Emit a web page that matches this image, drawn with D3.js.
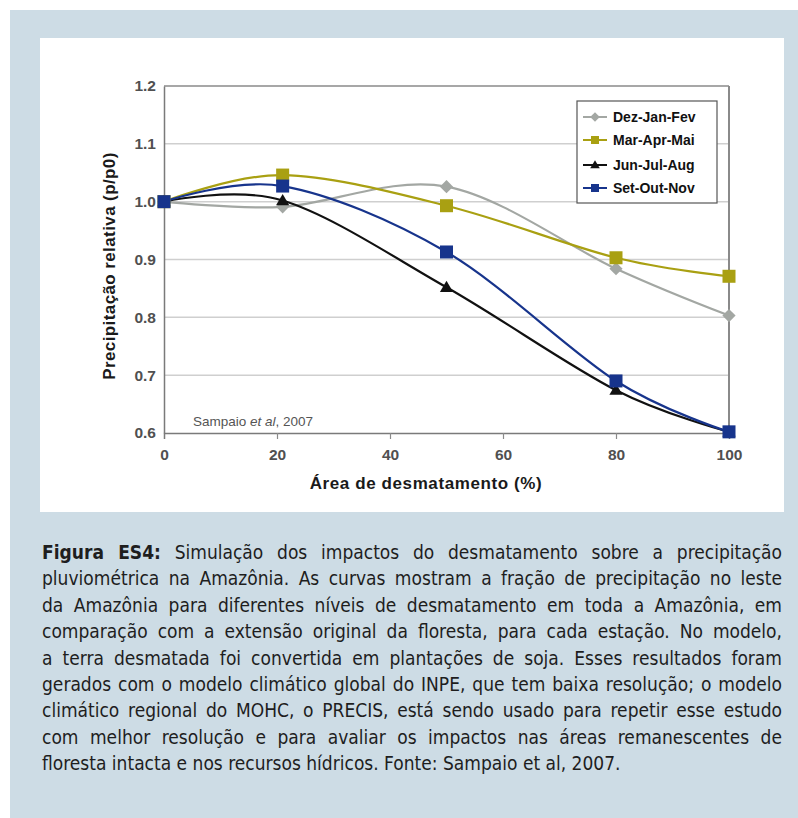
<!DOCTYPE html>
<html>
<head>
<meta charset="utf-8">
<script src="https://cdn.jsdelivr.net/npm/d3@7"></script>
<style>
  html, body { margin: 0; padding: 0; background: #ffffff; }
  #wrap { position: relative; width: 798px; height: 818px; overflow: hidden; }
  svg { position: absolute; left: 0; top: 0; }
  #caption { position: absolute; left: 42px; top: 539px; width: 740px;
    font-family: "Liberation Sans Narrow", "DejaVu Sans Condensed", "Roboto", sans-serif;
    font-size: 19px; color: #1e1e1e; }
  #caption div { height: 26.4px; line-height: 26.4px; white-space: nowrap; }
  #caption div.j { text-align: justify; text-align-last: justify; white-space: normal; }
</style>
</head>
<body>
<div id="wrap"><svg id="chart" width="798" height="818"></svg><div id="caption"></div></div>
<script>
const xValues = [0, 21, 50, 80, 100];
const seriesNames = ["Dez-Jan-Fev", "Mar-Apr-Mai", "Jun-Jul-Aug", "Set-Out-Nov"];
const dezJanFev = [1.0, 0.991, 1.026, 0.884, 0.803];
const marAprMai = [1.0, 1.046, 0.993, 0.903, 0.871];
const junJulAug = [1.0, 1.002, 0.852, 0.674, 0.602];
const setOutNov = [1.0, 1.027, 0.913, 0.690, 0.602];
const xTicks = [0, 20, 40, 60, 80, 100];
const yTicks = [0.6, 0.7, 0.8, 0.9, 1.0, 1.1, 1.2];
const captionLines = [
  "Simulação dos impactos do desmatamento sobre a precipitação",
  "pluviométrica na Amazônia. As curvas mostram a fração de precipitação no leste",
  "da Amazônia para diferentes níveis de desmatamento em toda a Amazônia, em",
  "comparação com a extensão original da floresta, para cada estação. No modelo,",
  "a terra desmatada foi convertida em plantações de soja. Esses resultados foram",
  "gerados com o modelo climático global do INPE, que tem baixa resolução; o modelo",
  "climático regional do MOHC, o PRECIS, está sendo usado para repetir esse estudo",
  "com melhor resolução e para avaliar os impactos nas áreas remanescentes de",
  "floresta intacta e nos recursos hídricos. Fonte: Sampaio et al, 2007."
];

const series = [
  { name: seriesNames[0], values: dezJanFev, color: "#a3a7a3", marker: "diamond" },
  { name: seriesNames[1], values: marAprMai, color: "#a9a012", marker: "square" },
  { name: seriesNames[2], values: junJulAug, color: "#111111", marker: "triangle" },
  { name: seriesNames[3], values: setOutNov, color: "#17348c", marker: "square" }
];

const svg = d3.select("#chart");
// panel background
svg.append("rect").attr("x", 10).attr("y", 10).attr("width", 798).attr("height", 818).attr("fill", "#cddce5");
svg.append("rect").attr("x", 40).attr("y", 38).attr("width", 744).attr("height", 474).attr("fill", "#ffffff");

const x = d3.scaleLinear().domain([0, 100]).range([164, 729]);
const y = d3.scaleLinear().domain([0.6, 1.2]).range([433, 86]);

// gridlines
svg.append("g").selectAll("line").data(yTicks.filter(v => v > 0.6 && v < 1.2)).join("line")
  .attr("x1", x(0)).attr("x2", x(100)).attr("y1", d => y(d)).attr("y2", d => y(d))
  .attr("stroke", "#cfcfcf").attr("stroke-width", 1.5);

// frame top and right
svg.append("line").attr("x1", x(0)).attr("x2", x(100)).attr("y1", y(1.2)).attr("y2", y(1.2))
  .attr("stroke", "#8a8a8a").attr("stroke-width", 1.5);
svg.append("line").attr("x1", x(100)).attr("x2", x(100)).attr("y1", y(1.2)).attr("y2", y(0.6))
  .attr("stroke", "#8a8a8a").attr("stroke-width", 2);

const tickFont = "Liberation Sans, Arial, sans-serif";
// axes
const xAxis = svg.append("g").attr("transform", `translate(0,${y(0.6)})`)
  .call(d3.axisBottom(x).tickValues(xTicks).tickFormat(d3.format("d")).tickSize(6).tickPadding(10));
xAxis.select(".domain").attr("stroke", "#7a7a7a").attr("stroke-width", 1.5);
xAxis.selectAll(".tick line").attr("stroke", "#8a8a8a").attr("stroke-width", 1.2);
xAxis.selectAll(".tick").filter(d => d === 0 || d === 100).select("line").remove();
xAxis.selectAll("text").attr("font-family", tickFont).attr("font-size", 15.5)
  .attr("font-weight", "bold").attr("fill", "#505050");

const yAxis = svg.append("g").attr("transform", `translate(${x(0)},0)`)
  .call(d3.axisLeft(y).tickValues(yTicks).tickFormat(d3.format(".1f")).tickSize(0).tickPadding(8));
yAxis.select(".domain").attr("stroke", "#7a7a7a").attr("stroke-width", 1.5);
yAxis.selectAll("text").attr("font-family", tickFont).attr("font-size", 15.5)
  .attr("font-weight", "bold").attr("fill", "#505050");

// axis titles
svg.append("text").attr("x", 426).attr("y", 489).attr("text-anchor", "middle")
  .attr("font-family", tickFont).attr("font-size", 17).attr("font-weight", "bold")
  .attr("letter-spacing", 0.6).attr("fill", "#1a1a1a").text("Área de desmatamento (%)");
svg.append("text").attr("transform", "translate(115,266) rotate(-90)").attr("text-anchor", "middle")
  .attr("font-family", tickFont).attr("font-size", 17).attr("font-weight", "bold")
  .attr("letter-spacing", 0.4).attr("fill", "#1a1a1a").text("Precipitação relativa (p/p0)");

// source note
const note = svg.append("text").attr("x", 193).attr("y", 426)
  .attr("font-family", "Liberation Sans Narrow, Liberation Sans, Arial, sans-serif").attr("font-size", 13.5)
  .attr("fill", "#555");
note.append("tspan").text("Sampaio ");
note.append("tspan").attr("font-style", "italic").text("et al");
note.append("tspan").text(", 2007");

// lines
const line = d3.line().x((d, i) => x(xValues[i])).y(d => y(d)).curve(d3.curveCardinal.tension(0));
const gLines = svg.append("g");
series.forEach(s => {
  gLines.append("path").attr("d", line(s.values)).attr("fill", "none")
    .attr("stroke", s.color).attr("stroke-width", 2.2);
});

function drawMarker(g, type, cx, cy, color, size) {
  if (type === "square") {
    g.append("rect").attr("x", cx - size / 2).attr("y", cy - size / 2).attr("width", size).attr("height", size)
      .attr("fill", color);
  } else if (type === "diamond") {
    const r = size * 0.6;
    g.append("path").attr("d", `M${cx},${cy - r}L${cx + r},${cy}L${cx},${cy + r}L${cx - r},${cy}Z`).attr("fill", color);
  } else {
    const r = size * 0.6;
    g.append("path").attr("d", `M${cx},${cy - r}L${cx + r},${cy + r * 0.7}L${cx - r},${cy + r * 0.7}Z`).attr("fill", color);
  }
}
const gMarks = svg.append("g");
series.forEach(s => {
  s.values.forEach((v, i) => {
    const size = s.marker === "square" ? 13 : 11;
    drawMarker(gMarks, s.marker, x(xValues[i]), y(v), s.color, size);
  });
});

// legend
const lg = svg.append("g");
lg.append("rect").attr("x", 577).attr("y", 101).attr("width", 140).attr("height", 102)
  .attr("fill", "#ffffff").attr("stroke", "#555").attr("stroke-width", 1.2);
const legY = [117, 140, 165, 188];
series.forEach((s, i) => {
  const yy = legY[i];
  lg.append("line").attr("x1", 583).attr("x2", 607).attr("y1", yy).attr("y2", yy)
    .attr("stroke", s.color).attr("stroke-width", 2);
  drawMarker(lg, s.marker, 595, yy, s.color, 8);
  lg.append("text").attr("x", 613).attr("y", yy + 5)
    .attr("font-family", tickFont).attr("font-size", 14).attr("font-weight", "bold")
    .attr("fill", "#111").text(s.name);
});

// caption
const cap = d3.select("#caption");
captionLines.forEach((t, i) => {
  const d = cap.append("div").attr("class", i < captionLines.length - 1 ? "j" : null);
  if (i === 0) {
    d.append("b").text("Figura ES4:");
    d.append("span").text(" " + t);
  } else {
    d.text(t);
  }
});
</script>
</body>
</html>
